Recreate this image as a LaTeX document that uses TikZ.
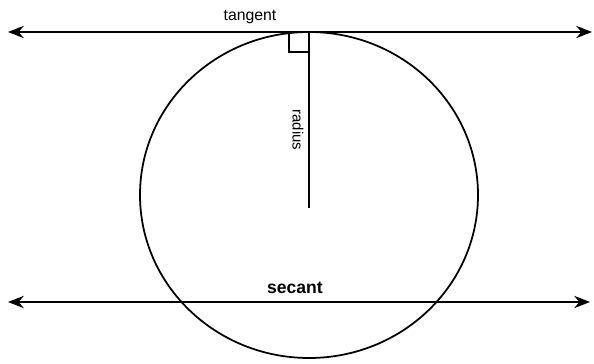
\documentclass[tikz,border=0pt]{standalone}
\usepackage{fontspec}
\setmainfont{Liberation Sans}
\usetikzlibrary{arrows.meta}
\begin{document}
\begin{tikzpicture}[x=0.02cm,y=-0.02cm,>={Stealth[length=9pt,width=7pt]},line width=1pt]
  \useasboundingbox (0,0) rectangle (594,364);
  \draw (309,195) ellipse (169 and 163);
  % tangent line
  \coordinate (tl) at (8,32);
  \coordinate (tr) at (592,32);
  \draw[<->] (tl) -- (tr);
  \node[font=\fontsize{9}{10}\selectfont] (tangent) at (250,17) {tangent};
  % radius with right angle mark
  \coordinate (top) at (309,32);
  \coordinate (ctr) at (309,208);
  \draw (top) -- (ctr);
  \draw[line width=0.9pt] (289,32) -- (289,52) -- (309,52);
  \node[rotate=-90,font=\fontsize{8.5}{9}\selectfont] (radius) at (298,130) {radius};
  % secant line
  \coordinate (sl) at (8,302);
  \coordinate (sr) at (590,302);
  \draw[<->] (sl) -- (sr);
  \node[font=\bfseries\fontsize{10}{11}\selectfont] (secant) at (295,288) {secant};
\end{tikzpicture}
\end{document}
